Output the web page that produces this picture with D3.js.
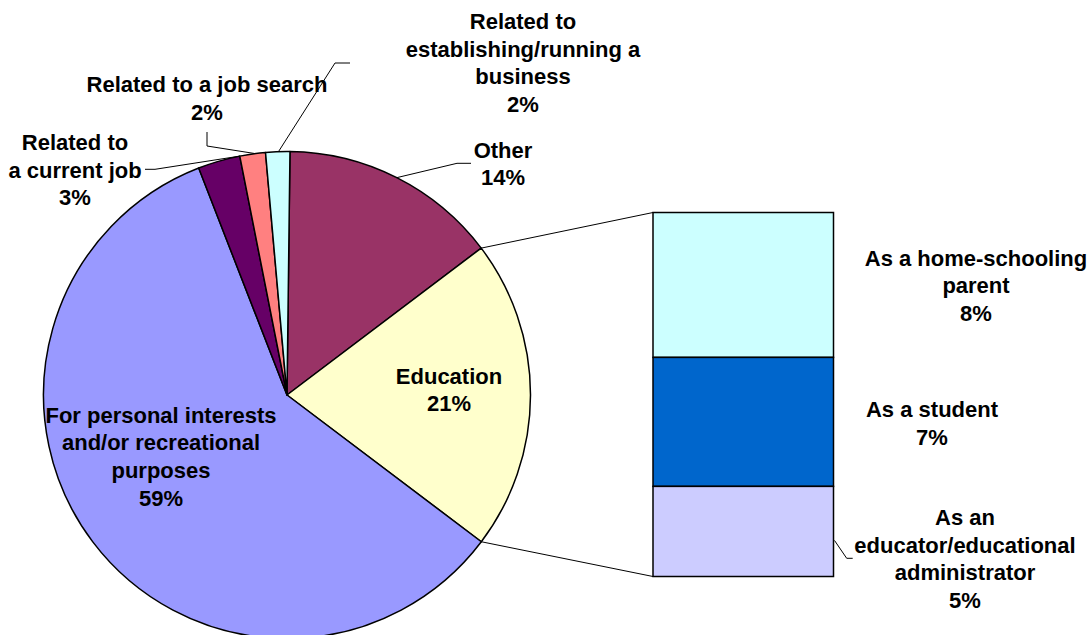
<!DOCTYPE html>
<html>
<head>
<meta charset="utf-8">
<script src="https://cdn.jsdelivr.net/npm/d3@7"></script>
<style>
  html, body { margin: 0; padding: 0; background: #fff; }
  svg { display: block; }
  text { font-family: "Liberation Sans", Arial, sans-serif; font-weight: bold; font-size: 22px; fill: #000; }
</style>
</head>
<body>
<svg id="chart" width="1091" height="635"></svg>
<script>
// ---- Data ----
const pieCategories = [
  "Other",
  "Education",
  "For personal interests|and/or recreational|purposes",
  "Related to|a current job",
  "Related to a job search",
  "Related to|establishing/running a|business"
];
const pieValues = [14.5, 20.6, 58.8, 2.8, 1.7, 1.6];
const pieLabelsPct = ["14%", "21%", "59%", "3%", "2%", "2%"];
const pieColors = ["#993366", "#FFFFCC", "#9999FF", "#660066", "#FF8080", "#CCFFFF"];

const barCategories = [
  "As a home-schooling|parent",
  "As a student",
  "As an|educator/educational|administrator"
];
const barValues = [8.2, 7.3, 5.1];
const barLabelsPct = ["8%", "7%", "5%"];
const barColors = ["#CCFFFF", "#0066CC", "#CCCCFF"];

// ---- Layout ----
const svg = d3.select("#chart");
const cx = 287, cy = 395, R = 243.5;
const startDeg = 0.7;
const lineH = 27.7;

const pie = d3.pie().sort(null).value(d => d)
  .startAngle(startDeg * Math.PI / 180)
  .endAngle((startDeg + 360) * Math.PI / 180);
const arcs = pie(pieValues);
const arc = d3.arc().innerRadius(0).outerRadius(R);

const g = svg.append("g").attr("transform", `translate(${cx},${cy})`);
g.selectAll("path").data(arcs).enter().append("path")
  .attr("d", arc)
  .attr("fill", (d, i) => pieColors[i])
  .attr("stroke", "#000")
  .attr("stroke-width", 1.5)
  .attr("stroke-linejoin", "round");

// Bar (breakdown of Education)
const barX0 = 653, barX1 = 833.5, barTop = 212.5, barBottom = 576.5;
const total = d3.sum(barValues);
const y = d3.scaleLinear().domain([0, total]).range([barTop, barBottom]);
const x = d3.scaleLinear().domain([0, 1]).range([barX0, barX1]);
const stackStart = d3.cumsum([0].concat(barValues.slice(0, -1)));
svg.selectAll("rect.seg").data(barValues).enter().append("rect")
  .attr("class", "seg")
  .attr("x", x(0))
  .attr("y", (d, i) => y(stackStart[i]))
  .attr("width", x(1) - x(0))
  .attr("height", d => y(d) - y(0))
  .attr("fill", (d, i) => barColors[i])
  .attr("stroke", "#000")
  .attr("stroke-width", 1.5);

// Connector lines from Education slice to bar
const edu = arcs[1];
function edge(a) { return [cx + R * Math.sin(a), cy - R * Math.cos(a)]; }
const pA = edge(edu.startAngle), pB = edge(edu.endAngle);
svg.append("line").attr("x1", pA[0]).attr("y1", pA[1]).attr("x2", x(0)).attr("y2", y(0))
  .attr("stroke", "#000").attr("stroke-width", 1);
svg.append("line").attr("x1", pB[0]).attr("y1", pB[1]).attr("x2", x(0)).attr("y2", y(total))
  .attr("stroke", "#000").attr("stroke-width", 1);

// Label placement (center x, first baseline)
const pieLabelPos = [
  [503, 157.5],
  [449, 383.5],
  [161, 422.5],
  [75, 150],
  [207, 92],
  [523, 29]
];
const barLabelPos = [
  [976, 265.5],
  [932, 417],
  [965, 525]
];

function drawLabel(cat, pct, pos) {
  const lines = cat.split("|").concat([pct]);
  const t = svg.append("text").attr("text-anchor", "middle");
  lines.forEach((ln, k) => {
    t.append("tspan").attr("x", pos[0]).attr("y", pos[1] + k * lineH).text(ln);
  });
}
pieCategories.forEach((c, i) => drawLabel(c, pieLabelsPct[i], pieLabelPos[i]));
barCategories.forEach((c, i) => drawLabel(c, barLabelsPct[i], barLabelPos[i]));

// Leader lines
const line = d3.line();
function leader(pts) {
  svg.append("path").attr("d", line(pts)).attr("fill", "none")
    .attr("stroke", "#000").attr("stroke-width", 1);
}
function arcPoint(i, frac) {
  const a = arcs[i].startAngle + (arcs[i].endAngle - arcs[i].startAngle) * frac;
  return edge(a);
}
leader([arcPoint(0, 0.5), [457, 163.3], [471, 163.3]]);            // Other
leader([[145, 169.3], [155, 169.3], arcPoint(3, 1.0)]);             // Current job
leader([[207, 132], [207, 146], arcPoint(4, 0.6)]);                 // Job search
leader([arcPoint(5, 0.53), [335, 63], [350, 63]]);                  // Business
leader([[x(1) + 1, y(stackStart[2] + barValues[2] * 0.6)], [846.7, 558.3], [852.7, 558.3]]); // Educator
</script>
</body>
</html>
